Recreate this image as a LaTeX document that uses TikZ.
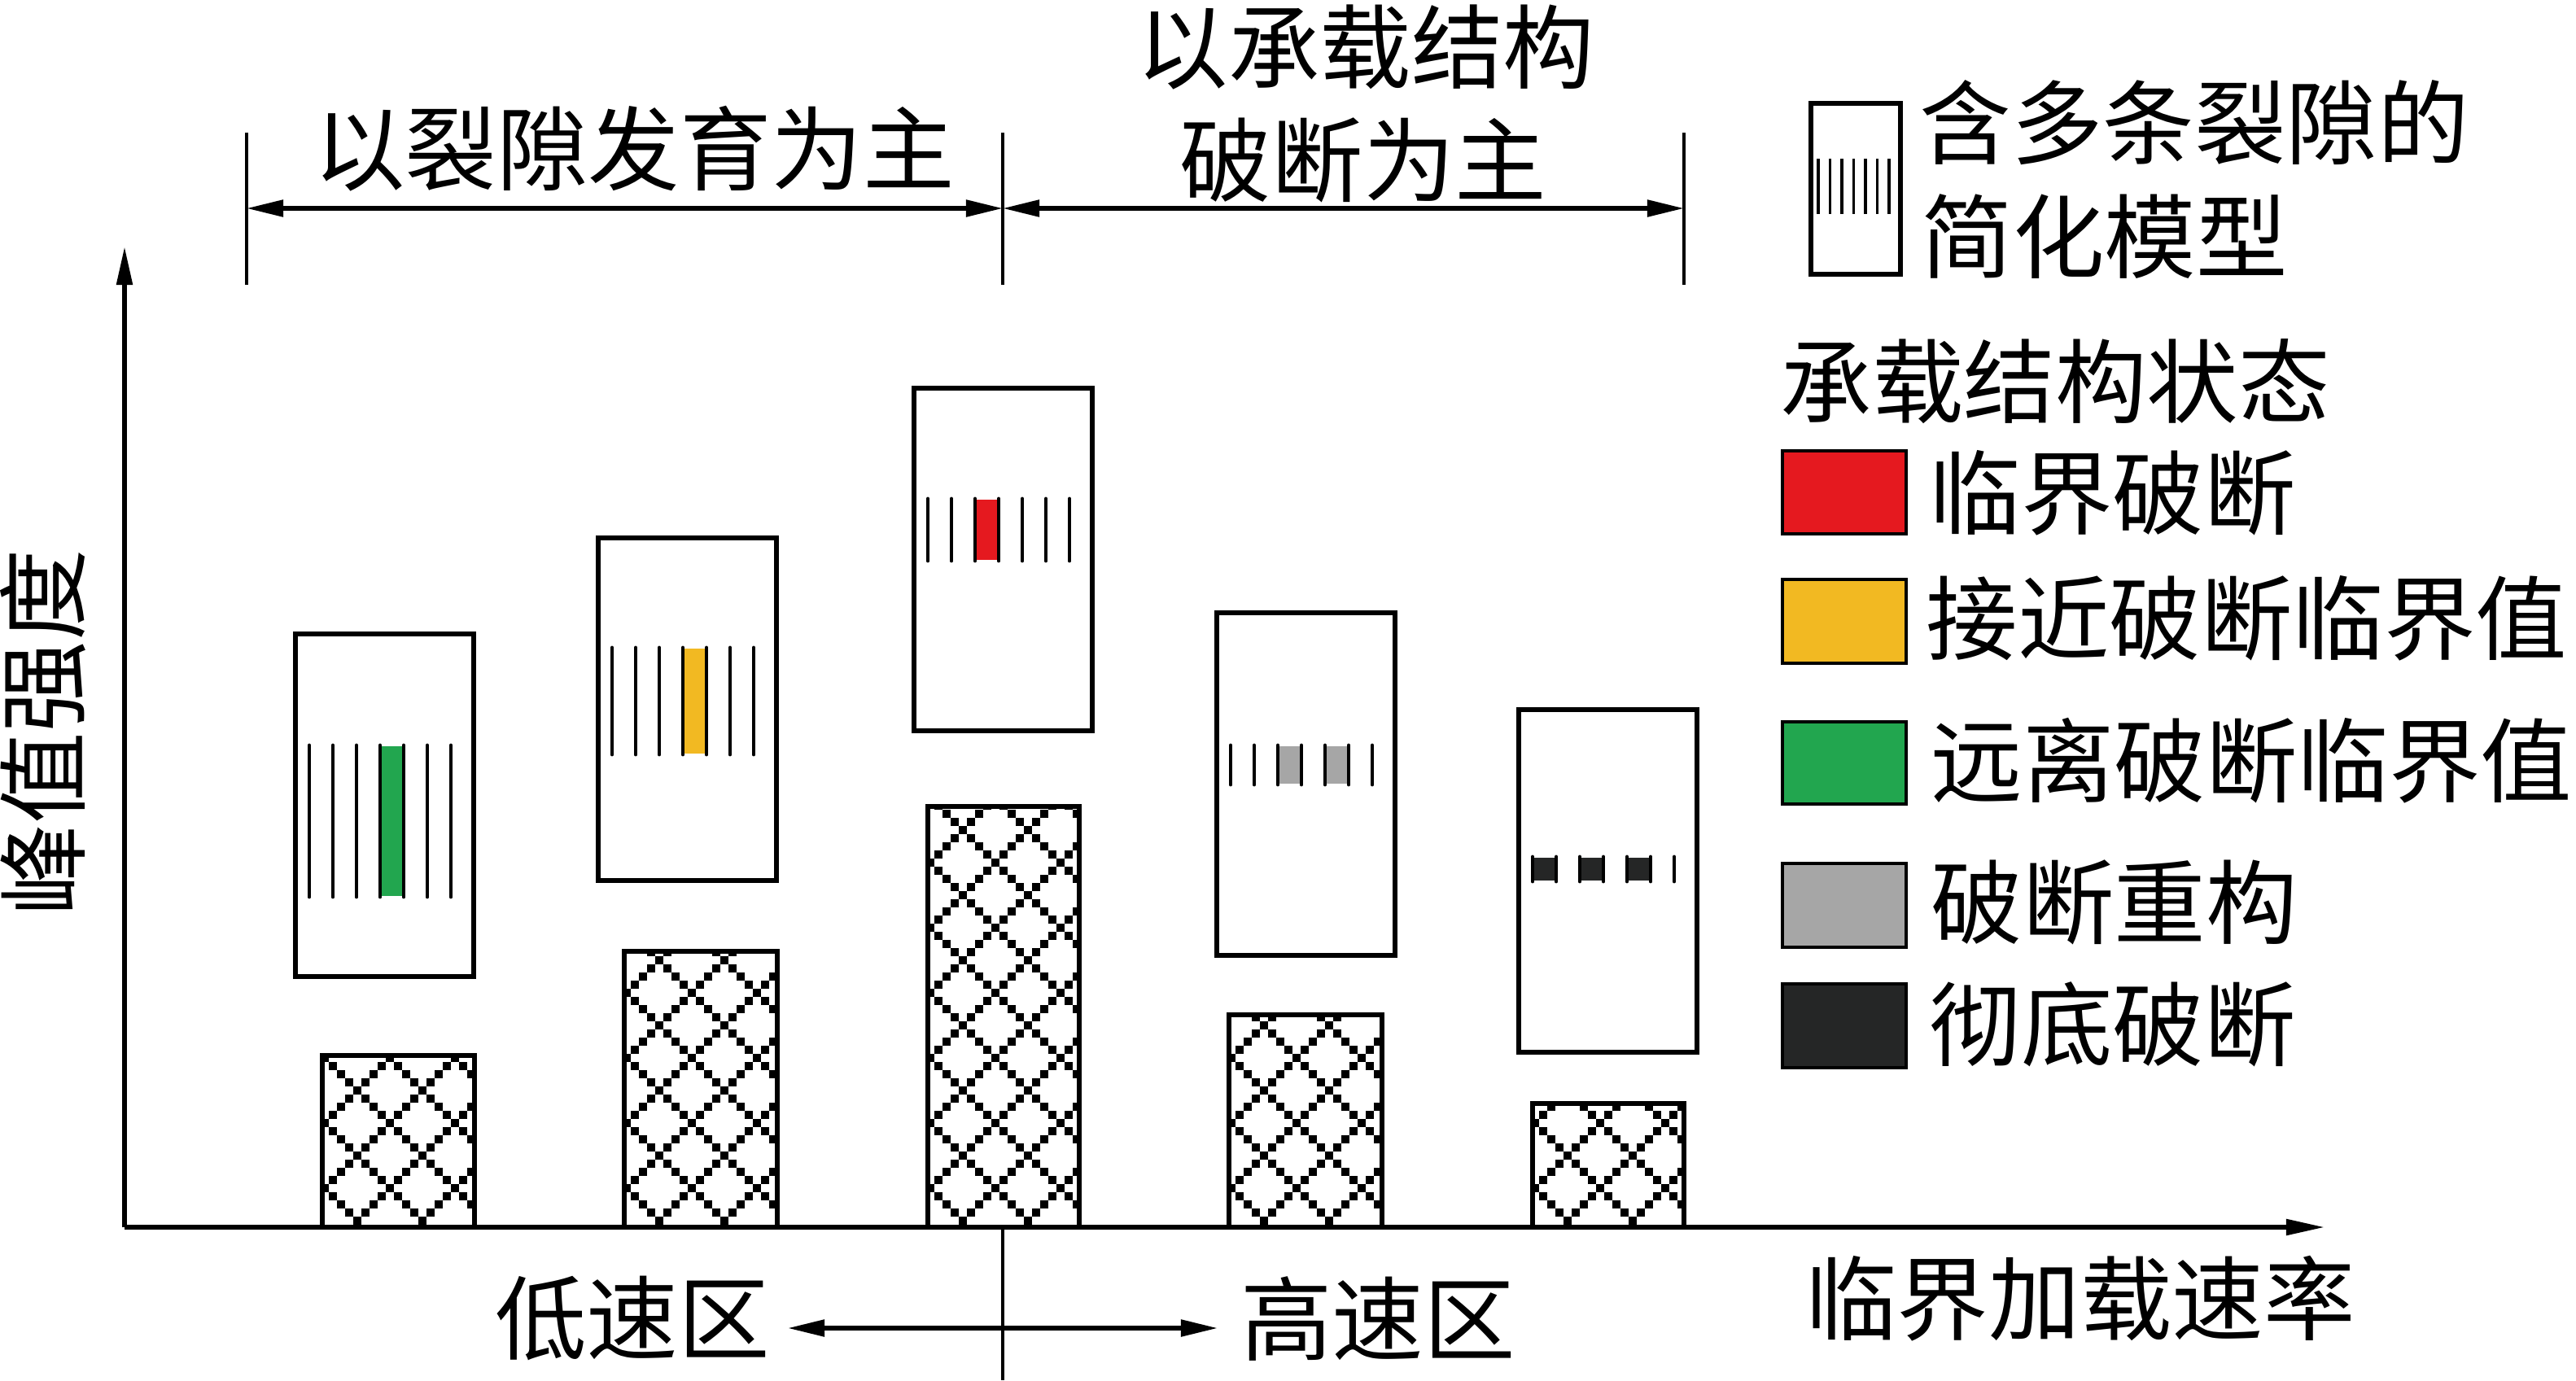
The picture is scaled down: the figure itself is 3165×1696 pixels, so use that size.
\documentclass[tikz,border=0pt]{standalone}
\usepackage{fontspec}
\newfontfamily\cjk{Noto Sans CJK SC}
\usetikzlibrary{arrows.meta}
\definecolor{cred}{HTML}{E5191F}
\definecolor{cyel}{HTML}{F2B922}
\definecolor{cgrn}{HTML}{22A64F}
\definecolor{cgry}{HTML}{A6A6A6}
\definecolor{cblk}{HTML}{252626}
\tikzset{
  lbl/.style={font=\cjk\fontsize{32pt}{38pt}\selectfont, inner sep=0pt},
  axisline/.style={line width=1.5pt, -{Triangle[length=0.47cm,width=0.19cm]}},
  dimline/.style={line width=1.5pt, {Triangle[length=0.45cm,width=0.2cm]}-{Triangle[length=0.45cm,width=0.2cm]}},
  tickline/.style={line width=1.05pt},
  midline/.style={line width=1.2pt},
  boxframe/.style={draw, line width=1.45pt, fill=white},
  barframe/.style={draw, line width=1.45pt},
  crack/.style={line width=1.4pt, line cap=round},
  thincrack/.style={line width=0.95pt},
  swatch/.style={draw=black, line width=1.3pt},
}
% hatched bar: left, top, right, bottom (px)
\newcommand\hatchbar[4]{%
  \begin{scope}
    \clip (#1,#2) rectangle (#3,#4);
    \pgfmathtruncatemacro\hna{(#3-#1)/10+2}%
    \pgfmathtruncatemacro\hnb{(#4-#2)/10+2}%
    \foreach \ha in {-6,...,\hna}{%
      \foreach \hb in {-1,...,\hnb}{%
        \pgfmathtruncatemacro\hd{mod(\ha-\hb+800,8)}%
        \pgfmathtruncatemacro\hs{mod(\ha+\hb+800,8)}%
        \ifnum\hd=0 \fill ({#1+43+10*\ha-5.2},{#4-8-10*\hb-5.2}) rectangle ++(10.4,10.4);\fi
        \ifnum\hd>0 \ifnum\hs=0 \fill ({#1+43+10*\ha-5.2},{#4-8-10*\hb-5.2}) rectangle ++(10.4,10.4);\fi\fi
      }%
    }%
  \end{scope}
  \draw[barframe] (#1,#2) rectangle (#3,#4);
}
\newcommand\crackframe[2]{%
  \draw[boxframe] (#1,#2) rectangle ++(219,421);
}
\newcommand\cracklines[4]{%
  \foreach \ci in {0,...,6}{%
    \draw[crack] ({#1+17+29*\ci},{#2+#3}) -- ({#1+17+29*\ci},{#2+#4});
  }%
}
\newcommand\crackfill[6]{%
  \fill[#6] ({#1+17+29*#5+2},{#2+#3+1}) rectangle ({#1+17+29*(#5+1)-2},{#2+#4-1});
}
\begin{document}
\begin{tikzpicture}[x=0.01cm,y=-0.01cm]
\useasboundingbox (0,0) rectangle (3165,1696);

% ---- hatched bars ----
\hatchbar{396}{1297}{583}{1508}
\hatchbar{767}{1169}{955}{1508}
\hatchbar{1140}{991}{1326}{1508}
\hatchbar{1510}{1247}{1698}{1508}
\hatchbar{1883}{1356}{2069}{1508}

% ---- crack model boxes ----
\crackframe{363}{779}
\crackfill{363}{779}{137}{323}{3}{cgrn}
\cracklines{363}{779}{137}{323}

\crackframe{735}{661}
\crackfill{735}{661}{135}{266}{3}{cyel}
\cracklines{735}{661}{135}{266}

\crackframe{1123}{477}
\crackfill{1123}{477}{136}{212}{2}{cred}
\cracklines{1123}{477}{136}{212}

\crackframe{1495}{753}
\crackfill{1495}{753}{163}{211}{2}{cgry}
\crackfill{1495}{753}{163}{211}{4}{cgry}
\cracklines{1495}{753}{163}{211}

\crackframe{1866}{872}
\crackfill{1866}{872}{181}{211}{0}{cblk}
\crackfill{1866}{872}{181}{211}{2}{cblk}
\crackfill{1866}{872}{181}{211}{4}{cblk}
\cracklines{1866}{872}{181}{211}

% ---- axes ----
\coordinate (org) at (153,1508);
\coordinate (ytop) at (153,303);
\coordinate (xend) at (2856,1508);
\draw[axisline] (org) -- (ytop);
\draw[axisline] (org) -- (xend);

% ---- top dimension lines ----
\coordinate (t1a) at (303,163); \coordinate (t1b) at (303,350);
\coordinate (t2a) at (1232,163); \coordinate (t2b) at (1232,350);
\coordinate (t3a) at (2069,163); \coordinate (t3b) at (2069,350);
\draw[tickline] (t1a) -- (t1b);
\draw[tickline] (t2a) -- (t2b);
\draw[tickline] (t3a) -- (t3b);
\coordinate (d1) at (303,256); \coordinate (d2) at (1232,256); \coordinate (d3) at (2069,256);
\draw[dimline] (d1) -- (d2);
\draw[dimline] (d2) -- (d3);

% ---- bottom divider and arrow ----
\coordinate (m1) at (1232,1508); \coordinate (m2) at (1232,1696);
\draw[midline] (m1) -- (m2);
\coordinate (b1) at (968,1632); \coordinate (b2) at (1496,1632);
\draw[dimline] (b1) -- (b2);

% ---- texts ----
\node[lbl] (txtA) at (779,183) {以裂隙发育为主};
\node[lbl] (txtB1) at (1678,58) {以承载结构};
\node[lbl] (txtB2) at (1675,197) {破断为主};
\node[lbl, rotate=90] (ylab) at (53,900) {峰值强度};
\node[lbl] (lowv) at (777,1620) {低速区};
\node[lbl] (highv) at (1693,1620) {高速区};
\node[lbl] (xlab) at (2556,1596) {临界加载速率};

% ---- legend: model ----
\draw[boxframe] (2225,127) rectangle (2335,337);
\foreach \k in {0,...,6}{\draw[thincrack] ({2234+14.5*\k},195) -- ({2234+14.5*\k},263);}
\node[lbl, anchor=west] (lgm1) at (2358,151) {含多条裂隙的};
\node[lbl, anchor=west] (lgm2) at (2360,291) {简化模型};

% ---- legend: states ----
\node[lbl, anchor=west] (lgt) at (2187,469) {承载结构状态};
\filldraw[swatch, fill=cred] (2190,554) rectangle (2342,656);
\filldraw[swatch, fill=cyel] (2190,712) rectangle (2342,815);
\filldraw[swatch, fill=cgrn] (2190,887) rectangle (2342,988);
\filldraw[swatch, fill=cgry] (2190,1061) rectangle (2342,1164);
\filldraw[swatch, fill=cblk] (2190,1209) rectangle (2342,1312);
\node[lbl, anchor=west] (lg1) at (2370,606) {临界破断};
\node[lbl, anchor=west] (lg2) at (2366,760) {接近破断临界值};
\node[lbl, anchor=west] (lg3) at (2372,935) {远离破断临界值};
\node[lbl, anchor=west] (lg4) at (2372,1109) {破断重构};
\node[lbl, anchor=west] (lg5) at (2370,1259) {彻底破断};
\end{tikzpicture}
\end{document}
